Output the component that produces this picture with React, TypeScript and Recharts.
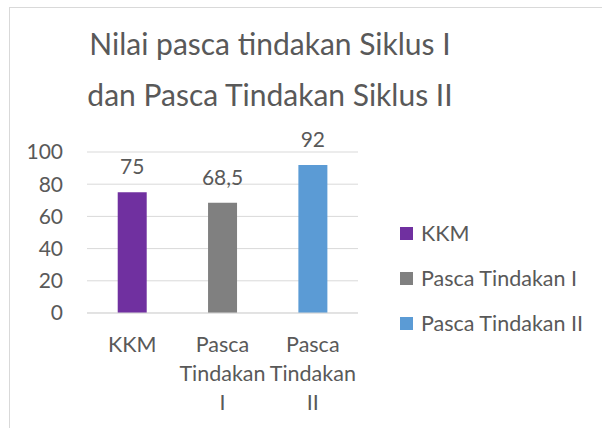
import React from "react";
import { BarChart, Bar, XAxis, YAxis, CartesianGrid, Cell, LabelList, Legend } from "recharts";

const categories = ["KKM", "Pasca Tindakan I", "Pasca Tindakan II"];
const values = [75, 68.5, 92];
const tickLines = [["KKM"], ["Pasca", "Tindakan", "I"], ["Pasca", "Tindakan", "II"]];
const colors = ["#7030A0", "#808080", "#5B9BD5"];
const yTicks = [0, 20, 40, 60, 80, 100];
const titleLines = ["Nilai pasca tindakan Siklus I", "dan Pasca Tindakan Siklus II"];

const data = categories.map((c, i) => ({ name: c, value: values[i] }));

const FONT = "Lato, 'Open Sans', sans-serif";
const TEXT = "#595959";

const XTick = (props: any) => {
  const { x, y, payload } = props;
  const lines = tickLines[payload.index] || [payload.value];
  return (
    <text x={x} y={y} textAnchor="middle" fill={TEXT} fontSize={21.5} fontFamily={FONT}>
      {lines.map((l, i) => (
        <tspan key={i} x={x} dy={i === 0 ? 31 : 29}>
          {l}
        </tspan>
      ))}
    </text>
  );
};

const LegendContent = () => (
  <div style={{ position: "relative", width: 200, height: 120, fontFamily: FONT, fontSize: 21.5, color: TEXT }}>
    {categories.map((c, i) => (
      <div key={c} style={{ position: "absolute", left: 0, top: i * 45, height: 26, display: "flex", alignItems: "center", whiteSpace: "nowrap" }}>
        <span style={{ display: "inline-block", width: 13, height: 13, background: colors[i], marginRight: 8 }} />
        <span>{c}</span>
      </div>
    ))}
  </div>
);

export default function App() {
  return (
    <div style={{ position: "absolute", left: 0, top: 0, width: 602, height: 428, overflow: "hidden", background: "#fff" }}>
      <div style={{ position: "absolute", left: 9, top: 7, width: 700, height: 600, borderLeft: "1px solid #d9d9d9", borderTop: "1px solid #d9d9d9" }} />
      <div style={{ position: "absolute", left: 0, top: 0, width: 602, height: 428 }}>
        <BarChart width={602} height={428} data={data} margin={{ top: 152, right: 244, bottom: 15, left: 0 }} barCategoryGap="34%">
          <CartesianGrid vertical={false} stroke="#d9d9d9" strokeWidth={1} />
          <XAxis dataKey="name" height={100} axisLine={{ stroke: "#d9d9d9" }} tickLine={false} tick={<XTick />} interval={0} />
          <YAxis width={87} domain={[0, 100]} ticks={yTicks} axisLine={false} tickLine={false} tickMargin={18}
            tick={{ fill: TEXT, fontSize: 21, fontFamily: FONT }} />
          <Legend layout="vertical" align="center" verticalAlign="middle" content={<LegendContent />}
            wrapperStyle={{ left: 400, top: 220, width: 200, height: 120 }} />
          <Bar dataKey="value" isAnimationActive={false}>
            {data.map((d, i) => (
              <Cell key={d.name} fill={colors[i]} />
            ))}
            <LabelList dataKey="value" position="top" offset={18} fill={TEXT} fontSize={21} fontFamily={FONT}
              formatter={(v: any) => String(v).replace(".", ",")} />
          </Bar>
        </BarChart>
      </div>
      <div style={{ position: "absolute", left: 0, top: 18, width: 540, textAlign: "center", fontFamily: FONT, fontSize: 30, lineHeight: "51px", color: TEXT }}>
        {titleLines.map((t) => (
          <div key={t}>{t}</div>
        ))}
      </div>
    </div>
  );
}
